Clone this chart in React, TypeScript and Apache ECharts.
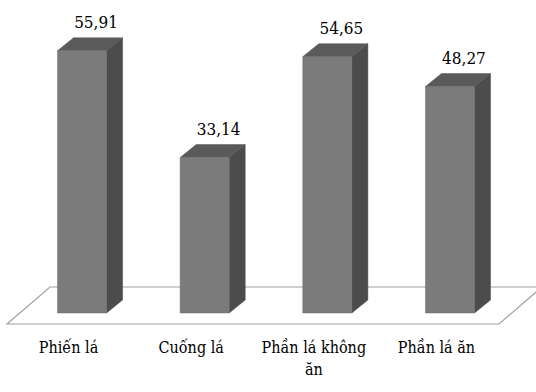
import React, { useEffect, useRef } from "react";
import * as echarts from "echarts";

const categories = ["Phiến lá", "Cuống lá", "Phần lá không ăn", "Phần lá ăn"];
const values = [55.91, 33.14, 54.65, 48.27];

const FAMILY = "DejaVu Serif Condensed, DejaVu Serif";

export default function App() {
  const ref = useRef<HTMLDivElement>(null);
  useEffect(() => {
    if (!ref.current) return;
    const chart = echarts.init(ref.current, undefined, { renderer: "svg" });
    const depthX = 16;
    const depthY = 13;
    chart.setOption({
      animation: false,
      backgroundColor: "#ffffff",
      textStyle: { fontFamily: FAMILY },
      grid: { left: 20.7, right: 24.7, top: 31.6, bottom: 79 },
      xAxis: {
        type: "category",
        data: categories,
        axisLine: { show: false },
        axisTick: { show: false },
        splitLine: { show: false },
        axisLabel: {
          interval: 0,
          margin: 23,
          color: "#000",
          fontFamily: FAMILY,
          fontSize: 16,
          lineHeight: 22,
          padding: [0, 27, 0, 0],
          formatter: (v: string) => {
            if (v.length > 12) {
              const i = v.lastIndexOf(" ");
              return v.slice(0, i) + "\n" + v.slice(i + 1);
            }
            return v;
          },
        },
      },
      yAxis: {
        type: "value",
        min: 0,
        max: 60,
        show: false,
        splitLine: { show: false },
      },
      graphic: [
        {
          type: "polygon",
          z: -10,
          silent: true,
          shape: {
            points: [
              [7, 324],
              [50, 287],
              [542, 287],
              [499, 324],
            ],
          },
          style: { fill: "#ffffff", stroke: "#a0a0a0", lineWidth: 1.2 },
        },
      ],
      series: [
        {
          type: "custom",
          z: 5,
          data: values.map((v, i) => [i, v]),
          encode: { x: 0, y: 1 },
          renderItem: (params: any, api: any) => {
            const idx = api.value(0);
            const val = api.value(1);
            const top = api.coord([idx, val]);
            const base = api.coord([idx, 0]);
            const bw = api.size([1, 0])[0] * 0.4;
            const x0 = top[0] - bw / 2;
            const x1 = top[0] + bw / 2;
            const yt = top[1];
            const yb = base[1];
            const label = val.toFixed(2).replace(".", ",");
            return {
              type: "group",
              children: [
                {
                  type: "polygon",
                  shape: {
                    points: [
                      [x1, yt],
                      [x1 + depthX, yt - depthY],
                      [x1 + depthX, yb - depthY],
                      [x1, yb],
                    ],
                  },
                  style: { fill: "#4c4c4c", stroke: "#474747", lineWidth: 0.5 },
                },
                {
                  type: "polygon",
                  shape: {
                    points: [
                      [x0, yt],
                      [x0 + depthX, yt - depthY],
                      [x1 + depthX, yt - depthY],
                      [x1, yt],
                    ],
                  },
                  style: { fill: "#5a5a5a", stroke: "#555555", lineWidth: 0.5 },
                },
                {
                  type: "rect",
                  shape: { x: x0, y: yt, width: bw, height: yb - yt },
                  style: { fill: "#7b7b7b", stroke: "#6e6e6e", lineWidth: 0.5 },
                },
                {
                  type: "text",
                  style: {
                    text: label,
                    x: top[0] + 14,
                    y: yt - depthY - 7,
                    align: "center",
                    verticalAlign: "bottom",
                    fontFamily: FAMILY,
                    fontSize: 17,
                    fill: "#000",
                  },
                },
              ],
            };
          },
        },
      ],
    });
    return () => chart.dispose();
  }, []);
  return <div ref={ref} style={{ width: 536, height: 392, position: "absolute", left: 0, top: 0 }} />;
}
